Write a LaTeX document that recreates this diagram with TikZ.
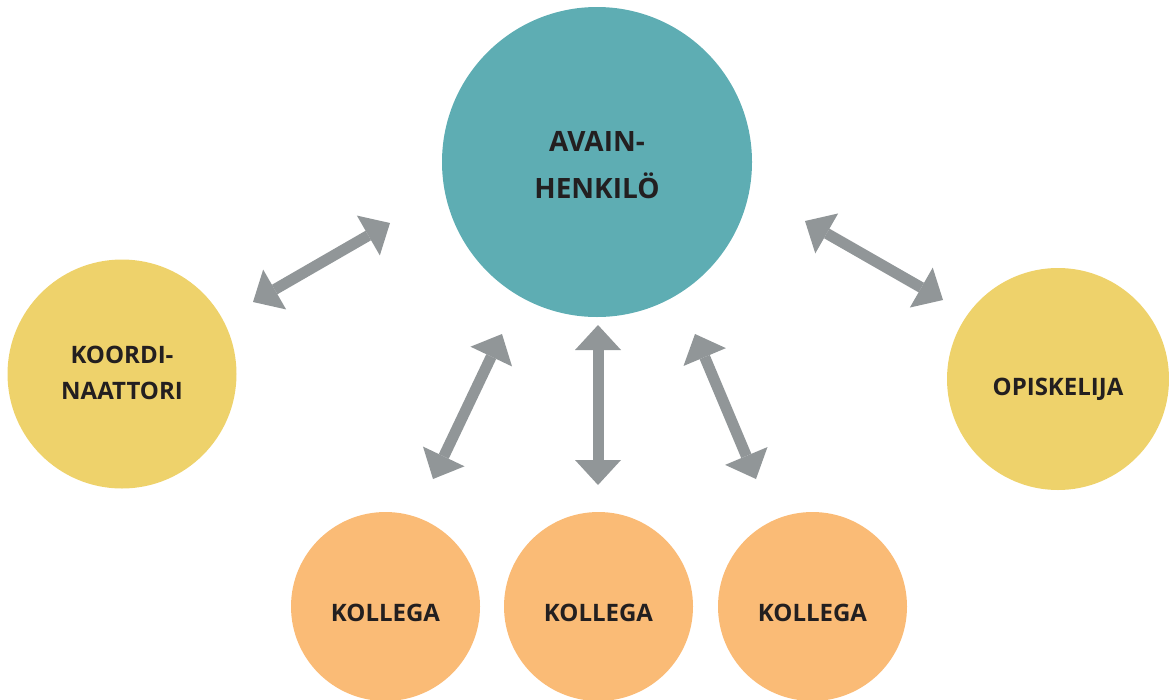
\documentclass[tikz,border=0pt]{standalone}
\usepackage{fontspec}
\setmainfont{Open Sans}
\usetikzlibrary{arrows.meta}
\definecolor{teal}{HTML}{5EADB3}
\definecolor{sun}{HTML}{EED26B}
\definecolor{peach}{HTML}{FABB76}
\definecolor{arrowgray}{HTML}{919698}
\definecolor{ink}{HTML}{231F20}
\tikzset{
  disc/.style={circle, inner sep=0pt, draw=none},
  lbl/.style={inner sep=0pt, text=ink, font=\bfseries\fontsize{24}{36}\selectfont, align=center},
  biglbl/.style={inner sep=0pt, text=ink, font=\bfseries\fontsize{28}{46.6}\selectfont, align=center},
  link/.style={draw=arrowgray, line width=11pt,
    {Triangle[length=25pt,width=46pt,line width=0pt]}-{Triangle[length=25pt,width=46pt,line width=0pt]}}
}
\begin{document}
\begin{tikzpicture}[x=1pt, y=-1pt]
\useasboundingbox (0,0) rectangle (1169,699);
% circles
\node[disc, fill=teal,  minimum size=310pt] (key)   at (597,162) {};
\node[disc, fill=sun,   minimum size=229pt] (coord) at (122,374) {};
\node[disc, fill=sun,   minimum size=222pt] (stud)  at (1058,379) {};
\node[disc, fill=peach, minimum size=189pt] (col1)  at (385.5,606.5) {};
\node[disc, fill=peach, minimum size=189pt] (col2)  at (598.5,606.5) {};
\node[disc, fill=peach, minimum size=189pt] (col3)  at (812.5,606.5) {};
% labels
\node[biglbl] (tkey)   at (597,165) {AVAIN-\\HENKILÖ};
\node[lbl]    (tcoord) at (122,373) {KOORDI-\\NAATTORI};
\node[lbl, anchor=base] (tstud) at (1058,395.5) {OPISKELIJA};
\node[lbl, anchor=base] (tcol1) at (385.5,621.5) {KOLLEGA};
\node[lbl, anchor=base] (tcol2) at (598.5,621.5) {KOLLEGA};
\node[lbl, anchor=base] (tcol3) at (812.5,621.5) {KOLLEGA};
% arrow end points
\coordinate (a1) at (253,302);  \coordinate (b1) at (390,223);
\coordinate (a2) at (805,221);  \coordinate (b2) at (943,300);
\coordinate (a3) at (433,479);  \coordinate (b3) at (502,334);
\coordinate (a4) at (598,485);  \coordinate (b4) at (598,325);
\coordinate (a5) at (756,479);  \coordinate (b5) at (695,334);
% double-headed links
\draw[link] (a1) -- (b1);
\draw[link] (a2) -- (b2);
\draw[link] (a3) -- (b3);
\draw[link] (a4) -- (b4);
\draw[link] (a5) -- (b5);
\end{tikzpicture}
\end{document}
